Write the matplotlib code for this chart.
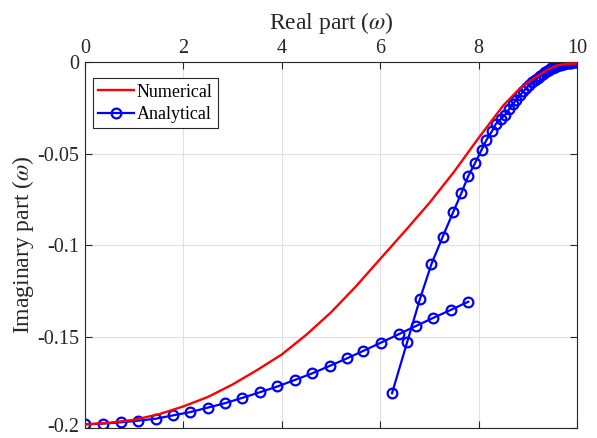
import numpy as np
import matplotlib
matplotlib.use("Agg")
import matplotlib.pyplot as plt
import matplotlib.transforms as mtrans

plt.rcParams['font.family'] = ['Liberation Serif', 'DejaVu Serif']
plt.rcParams['mathtext.fontset'] = 'stix'

# numerical solution (red line)
num_re = [0.0, 0.5, 1.0, 1.5, 2.0, 2.5, 3.0, 3.5, 4.0, 4.5, 5.0, 5.5, 6.0, 6.5,
          7.0, 7.5, 8.0, 8.5, 8.8, 9.0, 9.2, 9.4, 9.6, 9.8, 10.0]
num_im = [-0.1980, -0.1971, -0.1955, -0.1925, -0.1882, -0.1830, -0.1762, -0.1683,
          -0.1598, -0.1490, -0.1368, -0.1228, -0.1076, -0.0925, -0.0770, -0.0600,
          -0.0415, -0.0238, -0.0155, -0.0112, -0.0076, -0.0042, -0.0018, -0.0010, -0.0008]

# analytical, first branch
ana1_re = [0.0, 0.36, 0.73, 1.08, 1.44, 1.79, 2.14, 2.49, 2.85, 3.20, 3.56, 3.91,
           4.27, 4.62, 4.97, 5.32, 5.66, 6.02, 6.38, 6.73, 7.08, 7.43, 7.79]
ana1_im = [-0.1980, -0.1976, -0.1969, -0.1960, -0.1949, -0.1931, -0.1913, -0.1889,
           -0.1864, -0.1835, -0.1804, -0.1773, -0.1737, -0.1701, -0.1661, -0.1620,
           -0.1578, -0.1533, -0.1487, -0.1442, -0.1398, -0.1355, -0.1310]

# analytical, second branch
ana2_re = [6.24, 6.55, 6.81, 7.04, 7.27, 7.48, 7.65, 7.79, 7.93, 8.06, 8.16, 8.27,
           8.35, 8.45, 8.54, 8.62, 8.70, 8.77, 8.84, 8.91, 8.97, 9.03, 9.09, 9.15,
           9.20, 9.25, 9.30, 9.35, 9.40, 9.44, 9.48, 9.52, 9.56, 9.60, 9.64, 9.67,
           9.70, 9.73, 9.76, 9.79, 9.82, 9.85, 9.88, 9.91, 9.94, 9.97, 10.0]
ana2_im = [-0.1810, -0.1529, -0.1293, -0.1105, -0.0955, -0.0822, -0.0716, -0.0623,
           -0.0551, -0.0480, -0.0426, -0.0379, -0.0338, -0.0311, -0.0288, -0.0258,
           -0.0230, -0.0205, -0.0182, -0.0160, -0.0142, -0.0125, -0.0110, -0.0096,
           -0.0085, -0.0075, -0.0065, -0.0056, -0.0048, -0.0041, -0.0035, -0.0030,
           -0.0025, -0.0021, -0.0017, -0.0014, -0.0012, -0.0010, -0.0008, -0.0006,
           -0.0005, -0.0004, -0.0003, -0.0002, -0.0001, -0.0001, 0.0]

xticks = [0, 2, 4, 6, 8, 10]
yticks = [0, -0.05, -0.1, -0.15, -0.2]
ytick_labels = ['0', '-0.05', '-0.1', '-0.15', '-0.2']

fig = plt.figure(figsize=(5.97, 4.38), dpi=100)
ax = fig.add_axes([0.1424, 0.0228, 0.8241, 0.8356])

ax.plot(num_re, num_im, color='red', lw=1.7, label='Numerical', zorder=3)
mk = dict(color='blue', lw=1.6, marker='o', ms=7, mfc='none', mew=1.6, zorder=2)
ax.plot(ana1_re, ana1_im, label='Analytical', **mk)
ax.plot(ana2_re, ana2_im, **mk)

ax.set_xlim(0, 10)
ax.set_ylim(-0.2, 0)
ax.set_xticks(xticks)
ax.set_yticks(yticks)
ax.set_yticklabels(ytick_labels)
ax.xaxis.tick_top()
ax.xaxis.set_label_position('top')
ax.tick_params(axis='both', which='both', direction='in', top=True, bottom=True,
               left=True, right=True, labelsize=14.5, colors='#262626', length=5)
ax.tick_params(axis='x', labeltop=True, labelbottom=False, pad=3)
ax.tick_params(axis='y', pad=4)
for s in ax.spines.values():
    s.set_color('#262626')
    s.set_linewidth(0.8)
ax.grid(True, color='#e0e0e0', lw=0.8)
ax.set_axisbelow(True)

# nudge the bottom tick label up a little so it stays inside the image
lab = ax.get_yticklabels()[-1]
lab.set_transform(lab.get_transform() + mtrans.ScaledTranslation(0, 2 / 72, fig.dpi_scale_trans))

ax.set_xlabel(r'Real part ($\omega$)', fontsize=17, color='#262626', labelpad=7)
ax.set_ylabel(r'Imaginary part ($\omega$)', fontsize=17, color='#262626', labelpad=1)

leg = ax.legend(loc='upper left', bbox_to_anchor=(0.0157, 0.956), borderaxespad=0,
                fontsize=13, frameon=True, fancybox=False,
                edgecolor='#262626', framealpha=1, borderpad=0.3, labelspacing=0.3,
                handlelength=2.0, handletextpad=0.15)
leg.get_frame().set_linewidth(0.8)

fig.savefig('out.png', dpi=100)
